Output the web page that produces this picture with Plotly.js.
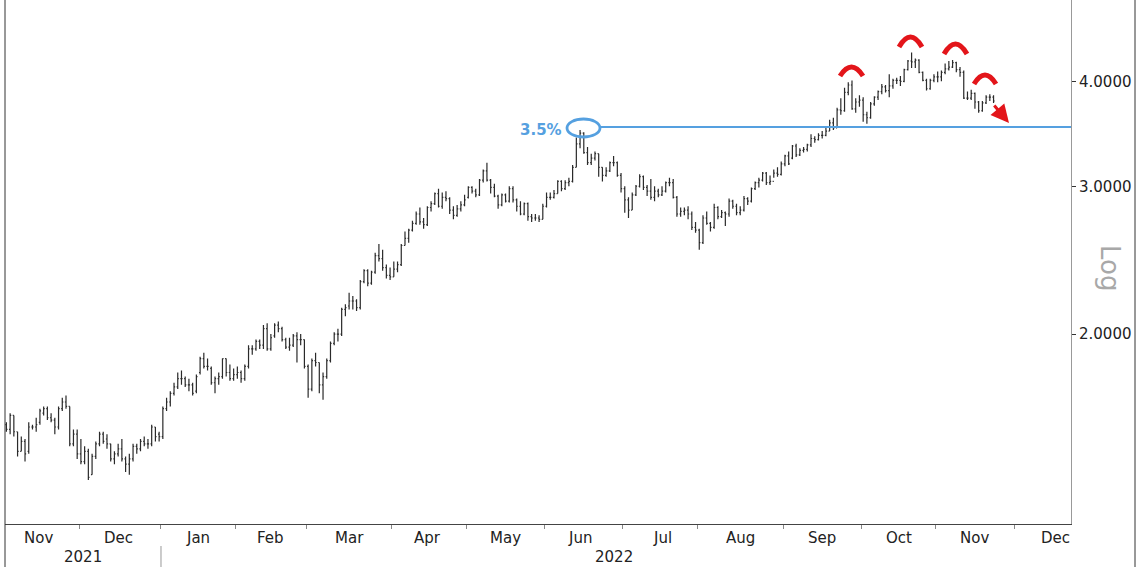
<!DOCTYPE html>
<html><head><meta charset="utf-8">
<script src="https://cdn.plot.ly/plotly-3.0.1.min.js"></script>
<style>html,body{margin:0;padding:0;background:#fff;}#chart{width:1136px;height:567px;}</style>
</head><body><div id="chart"></div>
<script>
// ---- DATA ----
const tradeDates = [
"2021-11-02","2021-11-03","2021-11-04","2021-11-05","2021-11-08","2021-11-09","2021-11-10","2021-11-11","2021-11-12","2021-11-15","2021-11-16","2021-11-17","2021-11-18","2021-11-19","2021-11-22","2021-11-23","2021-11-24","2021-11-26","2021-11-29","2021-11-30",
"2021-12-01","2021-12-02","2021-12-03","2021-12-06","2021-12-07","2021-12-08","2021-12-09","2021-12-10","2021-12-13","2021-12-14","2021-12-15","2021-12-16","2021-12-17","2021-12-20","2021-12-21","2021-12-22","2021-12-23","2021-12-27","2021-12-28","2021-12-29","2021-12-30","2021-12-31",
"2022-01-03","2022-01-04","2022-01-05","2022-01-06","2022-01-07","2022-01-10","2022-01-11","2022-01-12","2022-01-13","2022-01-14","2022-01-18","2022-01-19","2022-01-20","2022-01-21","2022-01-24","2022-01-25","2022-01-26","2022-01-27","2022-01-28","2022-01-31",
"2022-02-01","2022-02-02","2022-02-03","2022-02-04","2022-02-07","2022-02-08","2022-02-09","2022-02-10","2022-02-11","2022-02-14","2022-02-15","2022-02-16","2022-02-17","2022-02-18","2022-02-22","2022-02-23","2022-02-24","2022-02-25","2022-02-28",
"2022-03-01","2022-03-02","2022-03-03","2022-03-04","2022-03-07","2022-03-08","2022-03-09","2022-03-10","2022-03-11","2022-03-14","2022-03-15","2022-03-16","2022-03-17","2022-03-18","2022-03-21","2022-03-22","2022-03-23","2022-03-24","2022-03-25","2022-03-28","2022-03-29","2022-03-30","2022-03-31",
"2022-04-01","2022-04-04","2022-04-05","2022-04-06","2022-04-07","2022-04-08","2022-04-11","2022-04-12","2022-04-13","2022-04-14","2022-04-18","2022-04-19","2022-04-20","2022-04-21","2022-04-22","2022-04-25","2022-04-26","2022-04-27","2022-04-28","2022-04-29",
"2022-05-02","2022-05-03","2022-05-04","2022-05-05","2022-05-06","2022-05-09","2022-05-10","2022-05-11","2022-05-12","2022-05-13","2022-05-16","2022-05-17","2022-05-18","2022-05-19","2022-05-20","2022-05-23","2022-05-24","2022-05-25","2022-05-26","2022-05-27","2022-05-31",
"2022-06-01","2022-06-02","2022-06-03","2022-06-06","2022-06-07","2022-06-08","2022-06-09","2022-06-10","2022-06-13","2022-06-14","2022-06-15","2022-06-16","2022-06-17","2022-06-21","2022-06-22","2022-06-23","2022-06-24","2022-06-27","2022-06-28","2022-06-29","2022-06-30",
"2022-07-01","2022-07-05","2022-07-06","2022-07-07","2022-07-08","2022-07-11","2022-07-12","2022-07-13","2022-07-14","2022-07-15","2022-07-18","2022-07-19","2022-07-20","2022-07-21","2022-07-22","2022-07-25","2022-07-26","2022-07-27","2022-07-28","2022-07-29",
"2022-08-01","2022-08-02","2022-08-03","2022-08-04","2022-08-05","2022-08-08","2022-08-09","2022-08-10","2022-08-11","2022-08-12","2022-08-15","2022-08-16","2022-08-17","2022-08-18","2022-08-19","2022-08-22","2022-08-23","2022-08-24","2022-08-25","2022-08-26","2022-08-29","2022-08-30","2022-08-31",
"2022-09-01","2022-09-02","2022-09-06","2022-09-07","2022-09-08","2022-09-09","2022-09-12","2022-09-13","2022-09-14","2022-09-15","2022-09-16","2022-09-19","2022-09-20","2022-09-21","2022-09-22","2022-09-23","2022-09-26","2022-09-27","2022-09-28","2022-09-29","2022-09-30",
"2022-10-03","2022-10-04","2022-10-05","2022-10-06","2022-10-07","2022-10-11","2022-10-12","2022-10-13","2022-10-14","2022-10-17","2022-10-18","2022-10-19","2022-10-20","2022-10-21","2022-10-24","2022-10-25","2022-10-26","2022-10-27","2022-10-28","2022-10-31",
"2022-11-01","2022-11-02","2022-11-03","2022-11-04","2022-11-07","2022-11-08","2022-11-09","2022-11-10","2022-11-11","2022-11-14","2022-11-15","2022-11-16","2022-11-17","2022-11-18","2022-11-21","2022-11-22"
];
const openVals = [
1.56,1.54,1.60,1.53,1.45,1.49,1.45,1.55,1.55,1.57,1.61,1.63,1.59,1.58,1.55,1.63,1.66,1.64,1.48,1.52,
1.44,1.41,1.45,1.36,1.43,1.48,1.52,1.50,1.48,1.42,1.44,1.46,1.42,1.40,1.42,1.47,1.46,1.49,1.48,1.48,1.55,1.52,
1.51,1.63,1.66,1.70,1.73,1.77,1.77,1.74,1.74,1.71,1.80,1.87,1.83,1.82,1.75,1.77,1.78,1.87,1.80,1.77,
1.79,1.80,1.77,1.83,1.92,1.92,1.96,1.94,2.03,1.92,1.99,2.05,2.03,1.97,1.93,1.94,1.99,1.97,1.97,
1.83,1.72,1.86,1.85,1.74,1.78,1.86,1.95,2.00,2.00,2.14,2.16,2.19,2.19,2.15,2.31,2.38,2.30,2.37,2.48,2.46,2.40,2.35,
2.34,2.39,2.42,2.55,2.60,2.66,2.71,2.78,2.72,2.70,2.83,2.86,2.94,2.84,2.91,2.90,2.81,2.77,2.82,2.85,
2.91,2.99,2.96,2.93,3.05,3.13,3.05,2.99,2.92,2.85,2.93,2.88,2.98,2.89,2.84,2.78,2.86,2.76,2.75,2.75,2.74,
2.84,2.91,2.91,2.94,3.04,2.98,3.03,3.04,3.16,3.37,3.47,3.29,3.20,3.24,3.28,3.16,3.09,3.13,3.20,3.20,3.09,
2.98,2.89,2.81,2.93,3.00,3.08,2.99,2.96,2.91,2.96,2.93,2.96,3.03,3.03,2.91,2.78,2.80,2.81,2.78,2.68,
2.66,2.57,2.75,2.71,2.68,2.83,2.76,2.79,2.78,2.88,2.84,2.79,2.81,2.90,2.88,2.98,3.03,3.05,3.11,3.03,3.04,3.11,3.10,
3.19,3.26,3.24,3.35,3.27,3.31,3.32,3.36,3.42,3.41,3.45,3.45,3.49,3.57,3.52,3.70,3.69,3.88,3.96,3.71,3.78,
3.80,3.65,3.62,3.76,3.83,3.89,3.94,3.90,3.95,4.01,4.01,4.00,4.13,4.23,4.22,4.24,4.10,4.01,3.92,4.01,
4.05,4.05,4.10,4.14,4.16,4.21,4.13,4.10,3.82,3.82,3.87,3.78,3.69,3.77,3.83,3.83
];
const highVals = [
1.57,1.61,1.60,1.53,1.51,1.50,1.57,1.56,1.59,1.63,1.64,1.64,1.61,1.59,1.64,1.68,1.69,1.64,1.54,1.54,
1.50,1.47,1.46,1.44,1.49,1.53,1.53,1.52,1.48,1.45,1.48,1.50,1.43,1.44,1.48,1.48,1.50,1.51,1.50,1.56,1.55,1.53,
1.64,1.68,1.71,1.75,1.80,1.81,1.78,1.77,1.75,1.79,1.88,1.90,1.87,1.83,1.78,1.80,1.87,1.87,1.84,1.82,
1.83,1.81,1.84,1.94,1.94,1.97,1.97,2.05,2.06,2.00,2.06,2.07,2.04,1.98,1.98,2.00,2.01,2.00,1.97,
1.84,1.87,1.90,1.85,1.80,1.87,1.96,2.01,2.03,2.15,2.17,2.24,2.22,2.20,2.32,2.39,2.39,2.38,2.50,2.56,2.52,2.42,2.40,
2.44,2.44,2.56,2.65,2.67,2.73,2.80,2.83,2.75,2.84,2.88,2.95,2.98,2.95,2.96,2.91,2.84,2.85,2.88,2.93,
3.00,3.00,2.98,3.06,3.14,3.20,3.06,3.02,2.93,2.94,2.94,3.00,3.00,2.90,2.88,2.87,2.87,2.78,2.78,2.77,2.86,
2.95,2.95,2.97,3.05,3.05,3.05,3.07,3.18,3.43,3.50,3.48,3.34,3.28,3.30,3.28,3.16,3.16,3.21,3.26,3.21,3.11,
3.00,2.91,2.95,3.01,3.10,3.09,3.01,3.06,3.00,2.98,3.00,3.04,3.07,3.06,2.92,2.83,2.83,2.84,2.80,2.72,
2.67,2.77,2.80,2.72,2.86,2.84,2.81,2.80,2.90,2.89,2.86,2.84,2.92,2.91,2.99,3.04,3.07,3.12,3.12,3.09,3.14,3.16,3.21,
3.27,3.30,3.36,3.37,3.33,3.34,3.37,3.46,3.44,3.47,3.49,3.52,3.60,3.62,3.72,3.82,3.93,3.99,4.01,3.82,3.85,
3.83,3.68,3.78,3.84,3.90,3.97,3.96,4.08,4.03,4.04,4.06,4.14,4.24,4.33,4.26,4.25,4.11,4.03,4.03,4.08,
4.11,4.12,4.20,4.23,4.24,4.22,4.16,4.12,3.89,3.91,3.88,3.79,3.79,3.85,3.86,3.85
];
const lowVals = [
1.53,1.52,1.51,1.43,1.45,1.41,1.44,1.54,1.53,1.56,1.60,1.58,1.57,1.52,1.54,1.62,1.63,1.47,1.47,1.42,
1.40,1.40,1.34,1.36,1.42,1.47,1.48,1.46,1.41,1.40,1.43,1.41,1.37,1.36,1.41,1.44,1.45,1.47,1.46,1.47,1.49,1.49,
1.50,1.62,1.64,1.69,1.72,1.74,1.73,1.71,1.69,1.70,1.79,1.82,1.81,1.74,1.70,1.74,1.77,1.78,1.76,1.76,
1.77,1.75,1.76,1.82,1.89,1.91,1.92,1.92,1.91,1.91,1.98,2.01,1.96,1.92,1.91,1.93,1.85,1.94,1.82,
1.68,1.71,1.83,1.70,1.67,1.77,1.85,1.94,1.96,1.99,2.10,2.14,2.14,2.13,2.14,2.30,2.28,2.29,2.36,2.44,2.38,2.33,2.32,
2.34,2.37,2.41,2.55,2.57,2.65,2.70,2.70,2.67,2.69,2.80,2.85,2.83,2.82,2.88,2.78,2.74,2.76,2.80,2.84,
2.90,2.94,2.91,2.92,3.03,3.04,2.94,2.91,2.82,2.84,2.87,2.87,2.87,2.80,2.77,2.77,2.73,2.72,2.73,2.72,2.74,
2.83,2.89,2.90,2.94,2.96,2.97,3.00,3.03,3.16,3.33,3.28,3.18,3.18,3.22,3.08,3.04,3.08,3.12,3.17,3.08,2.95,
2.79,2.75,2.81,2.92,2.99,2.97,2.92,2.89,2.88,2.91,2.92,2.95,3.00,2.90,2.76,2.76,2.77,2.74,2.66,2.64,
2.52,2.56,2.70,2.65,2.67,2.74,2.75,2.69,2.76,2.82,2.77,2.77,2.80,2.85,2.87,2.97,2.99,3.04,3.01,3.01,3.07,3.08,3.09,
3.17,3.18,3.23,3.25,3.26,3.29,3.30,3.34,3.38,3.40,3.42,3.44,3.49,3.50,3.52,3.65,3.68,3.85,3.70,3.67,3.73,
3.58,3.56,3.61,3.74,3.80,3.86,3.88,3.83,3.92,3.97,3.95,3.99,4.12,4.15,4.15,4.09,4.00,3.90,3.91,3.99,
3.99,4.00,4.08,4.12,4.15,4.10,4.05,3.81,3.80,3.80,3.71,3.67,3.68,3.76,3.79,3.77
];
const closeVals = [
1.54,1.60,1.53,1.45,1.49,1.44,1.55,1.55,1.56,1.62,1.63,1.59,1.58,1.55,1.63,1.66,1.64,1.48,1.52,1.44,
1.41,1.45,1.35,1.43,1.48,1.52,1.49,1.48,1.42,1.44,1.46,1.42,1.40,1.42,1.47,1.46,1.49,1.48,1.48,1.55,1.51,1.51,
1.63,1.66,1.70,1.73,1.77,1.77,1.74,1.74,1.70,1.78,1.87,1.83,1.83,1.75,1.77,1.78,1.87,1.80,1.77,1.79,
1.80,1.77,1.83,1.92,1.92,1.96,1.94,2.03,1.92,1.98,2.05,2.03,1.97,1.93,1.94,1.99,1.97,1.97,1.83,
1.72,1.86,1.85,1.74,1.78,1.86,1.95,2.00,2.00,2.14,2.15,2.19,2.19,2.15,2.31,2.38,2.30,2.37,2.48,2.46,2.40,2.35,2.34,
2.39,2.42,2.55,2.60,2.66,2.71,2.78,2.72,2.70,2.83,2.86,2.94,2.84,2.91,2.90,2.81,2.77,2.82,2.85,2.89,
2.99,2.96,2.93,3.05,3.13,3.05,2.99,2.92,2.85,2.93,2.88,2.98,2.89,2.84,2.78,2.86,2.76,2.75,2.75,2.74,2.84,
2.91,2.91,2.94,3.04,2.98,3.03,3.04,3.16,3.37,3.47,3.29,3.20,3.24,3.28,3.16,3.09,3.13,3.20,3.20,3.09,2.98,
2.89,2.81,2.93,3.00,3.08,2.99,2.96,2.91,2.96,2.93,2.96,3.03,3.03,2.91,2.78,2.80,2.81,2.78,2.68,2.66,
2.57,2.75,2.71,2.68,2.83,2.76,2.79,2.78,2.88,2.84,2.79,2.81,2.90,2.88,2.98,3.03,3.05,3.11,3.03,3.04,3.11,3.10,3.19,
3.26,3.19,3.35,3.27,3.31,3.32,3.36,3.42,3.41,3.45,3.45,3.49,3.57,3.52,3.70,3.69,3.88,3.96,3.71,3.78,3.80,
3.65,3.62,3.76,3.83,3.89,3.94,3.90,3.95,4.01,4.01,4.00,4.13,4.23,4.22,4.24,4.10,4.01,3.92,4.01,4.05,
4.05,4.10,4.14,4.16,4.21,4.13,4.10,3.82,3.82,3.87,3.78,3.69,3.77,3.83,3.83,3.79
];
const holidays = ["2021-11-25","2021-12-24","2022-01-17","2022-02-21","2022-04-15","2022-05-30","2022-06-20","2022-07-04","2022-09-05","2022-10-10","2022-11-24","2022-12-26"];
const monthTicks = ["2021-12-01","2022-01-03","2022-02-01","2022-03-01","2022-04-01","2022-05-02","2022-06-01","2022-07-01","2022-08-01","2022-09-01","2022-10-03","2022-11-01","2022-12-01"];
const monthLabels = ["Nov","Dec","Jan","Feb","Mar","Apr","May","Jun","Jul","Aug","Sep","Oct","Nov","Dec"];
const monthLabelDates = ["2021-11-15 00:00","2021-12-15 12:00","2022-01-18 00:00","2022-02-14 12:00","2022-03-16 12:00","2022-04-14 12:00","2022-05-16 12:00","2022-06-14 12:00","2022-07-18 12:00","2022-08-16 12:00","2022-09-16 12:00","2022-10-18 00:00","2022-11-15 12:00","2022-12-16 00:00"];
const yearLabels = ["2021","2022"];
const yearLabelDates = ["2021-12-02 00:00","2022-06-28 12:00"];
const yTickVals = [2,3,4];
const yTickText = ["2.0000","3.0000","4.0000"];
const levelLabel = "3.5%";

// ---- LAYOUT HELPERS (pixel -> paper for the drawn-on annotations) ----
const W = 1136, H = 567, ML = 5, MR = 65, MT = 0, MB = 43;
const PW = W - ML - MR, PH = H - MT - MB;
const px = X => (X - ML) / PW;
const py = Y => (H - MB - Y) / PH;
const FONT = 'DejaVu Sans';
const RED = '#e3151a', BLUE = '#55a0e0';

function arc(x1, x2, yEnd, yPeak) {
  const xm = (x1 + x2) / 2, yc = 2 * yPeak - yEnd;
  return {type:'path', xref:'paper', yref:'paper',
    path:`M ${px(x1)},${py(yEnd)} Q ${px(xm)},${py(yc)} ${px(x2)},${py(yEnd)}`,
    line:{color:RED, width:5}};
}

const trace = {
  type:'ohlc', x:tradeDates, open:openVals, high:highVals, low:lowVals, close:closeVals,
  xperiod:86400000, xperiodalignment:'middle',
  increasing:{line:{color:'#2a2a2a', width:1.2}},
  decreasing:{line:{color:'#2a2a2a', width:1.2}},
  tickwidth:0.3, hoverinfo:'skip', showlegend:false
};

const shapes = [
  {type:'line', xref:'paper', yref:'paper', x0:0, x1:0, y0:py(567), y1:1, line:{color:'#333', width:1}},
  {type:'line', xref:'paper', yref:'paper', x0:px(1135), x1:px(1135), y0:py(567), y1:1, line:{color:'#333', width:1}},
  {type:'line', xref:'x', yref:'paper', x0:'2022-01-03', x1:'2022-01-03', y0:py(546), y1:py(567), line:{color:'#999', width:1}},
  {type:'line', xref:'paper', yref:'paper', x0:px(600), x1:1, y0:py(127), y1:py(127), line:{color:BLUE, width:2}},
  {type:'circle', xref:'paper', yref:'paper', x0:px(567), x1:px(600), y0:py(137), y1:py(119), line:{color:BLUE, width:2.8}},
  arc(840, 863, 76, 67),
  arc(899, 922, 47, 37),
  arc(944, 967, 54, 44),
  arc(974, 996, 84, 75)
];

const annotations = [];
monthLabels.forEach((t, i) => annotations.push({
  text:t, xref:'x', yref:'paper', x:monthLabelDates[i], y:py(538), showarrow:false,
  xanchor:'center', yanchor:'middle', font:{family:FONT, size:15, color:'#222'}
}));
yearLabels.forEach((t, i) => annotations.push({
  text:t, xref:'x', yref:'paper', x:yearLabelDates[i], y:py(557), showarrow:false,
  xanchor:'center', yanchor:'middle', font:{family:FONT, size:15, color:'#222'}
}));
annotations.push({text:levelLabel, xref:'paper', yref:'paper', x:px(541), y:py(130), showarrow:false,
  xanchor:'center', yanchor:'middle', font:{family:FONT, size:15, color:BLUE, weight:'bold'}});
annotations.push({text:'Log', xref:'paper', yref:'paper', x:px(1110), y:py(268), showarrow:false,
  textangle:90, xanchor:'center', yanchor:'middle', font:{family:FONT, size:26, color:'#a8a8a8'}});
annotations.push({text:'', xref:'paper', yref:'paper', x:px(1009), y:py(123), showarrow:true,
  ax:-16, ay:-19, arrowhead:2, arrowsize:1.2, arrowwidth:3, arrowcolor:RED});

const layout = {
  width:W, height:H, margin:{l:ML, r:MR, t:MT, b:MB, pad:0},
  paper_bgcolor:'#fff', plot_bgcolor:'#fff', showlegend:false,
  font:{family:FONT, color:'#222'},
  xaxis:{type:'date', range:['2021-11-02 03:00','2022-12-22 07:00'],
    rangebreaks:[{bounds:['sat','mon']},{values:holidays}],
    tickmode:'array', tickvals:monthTicks, ticktext:monthTicks.map(() => ''),
    ticks:'outside', ticklen:4, tickcolor:'#888', showline:true, linecolor:'#444', linewidth:1,
    showgrid:false, zeroline:false, rangeslider:{visible:false}, fixedrange:true},
  yaxis:{type:'log', side:'right', range:[Math.log10(1.188), Math.log10(5.0)],
    tickmode:'array', tickvals:yTickVals, ticktext:yTickText,
    ticks:'outside', ticklen:4, tickcolor:'#333', showline:true, linecolor:'#999', linewidth:1,
    showgrid:false, zeroline:false, tickfont:{family:FONT, size:15, color:'#222'}, fixedrange:true},
  shapes:shapes, annotations:annotations
};

Plotly.newPlot('chart', [trace], layout, {displayModeBar:false, staticPlot:true});
</script>
</body></html>
